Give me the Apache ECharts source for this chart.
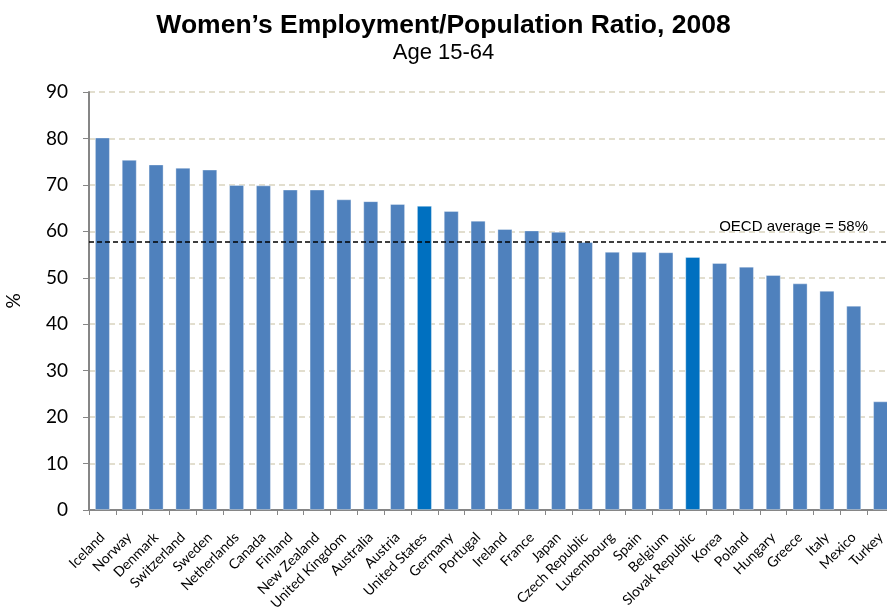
<!DOCTYPE html>
<html>
<head>
<meta charset="utf-8">
<script src="https://cdn.jsdelivr.net/npm/echarts@6/dist/echarts.min.js"></script>
<style>html,body{margin:0;padding:0;background:#fff}#c{width:887px;height:608px}</style>
</head>
<body>
<div id="c"></div>
<script>
const countries = ["Iceland","Norway","Denmark","Switzerland","Sweden","Netherlands","Canada","Finland","New Zealand","United Kingdom","Australia","Austria","United States","Germany","Portugal","Ireland","France","Japan","Czech Republic","Luxembourg","Spain","Belgium","Slovak Republic","Korea","Poland","Hungary","Greece","Italy","Mexico","Turkey"];
const ratios = [80.2,75.4,74.4,73.7,73.3,70.0,69.9,69.0,69.0,66.9,66.5,65.9,65.5,64.4,62.3,60.5,60.2,59.9,57.7,55.6,55.6,55.5,54.5,53.2,52.4,50.6,48.8,47.2,44.0,23.4];
const highlighted = ["United States","Slovak Republic"];
const oecdAverage = 57.8;
const oecdLabel = "OECD average = 58%";
const yTicks = [0,10,20,30,40,50,60,70,80,90];

const chart = echarts.init(document.getElementById('c'), null, {renderer:'canvas'});
chart.setOption({
  animation:false,
  backgroundColor:'#fff',
  title:{
    text:"Women\u2019s Employment/Population Ratio, 2008",
    subtext:"Age 15-64",
    left:'center', top:7, itemGap:3,
    textStyle:{fontFamily:'Liberation Sans',fontWeight:'bold',fontSize:26.5,color:'#000'},
    subtextStyle:{fontFamily:'Liberation Sans',fontSize:22,color:'#000'}
  },
  grid:{left:89, top:92, width:805, height:418, containLabel:false, outerBoundsMode:'none'},
  xAxis:{
    type:'category', data:countries,
    axisLine:{lineStyle:{color:'#868686',width:2}},
    axisTick:{show:true,length:5,lineStyle:{color:'#868686'}},
    axisLabel:{rotate:45, interval:0, margin:25, fontFamily:'Lato', fontSize:14, color:'#000'}
  },
  yAxis:{
    type:'value', min:yTicks[0], max:yTicks[yTicks.length-1], interval:10,
    name:'%', nameLocation:'middle', nameGap:66, nameRotate:90,
    nameTextStyle:{fontFamily:'Lato',fontSize:19,color:'#000'},
    axisLine:{show:true,lineStyle:{color:'#868686',width:2}},
    axisTick:{show:true,length:6,lineStyle:{color:'#868686'}},
    axisLabel:{fontFamily:'Lato',fontSize:19,color:'#000',margin:21},
    splitLine:{lineStyle:{color:'#D9D4BF',type:[6,4],width:1.5}}
  },
  series:[{
    type:'bar',
    data:countries.map((c,i)=>({value:ratios[i],itemStyle:{color:highlighted.includes(c)?'#0070C0':'#4F81BD'}})),
    barCategoryGap:'44%',
    itemStyle:{borderColor:'rgba(255,255,255,0.35)',borderWidth:1},
    markLine:{
      symbol:'none', silent:true,
      data:[{yAxis:oecdAverage}],
      lineStyle:{color:'#000',type:[5,3],width:1.5},
      label:{show:true,position:'insideEndTop',formatter:oecdLabel,fontFamily:'Liberation Sans',fontSize:15,color:'#000',offset:[-21,-2]}
    }
  }]
});
</script>
</body>
</html>
